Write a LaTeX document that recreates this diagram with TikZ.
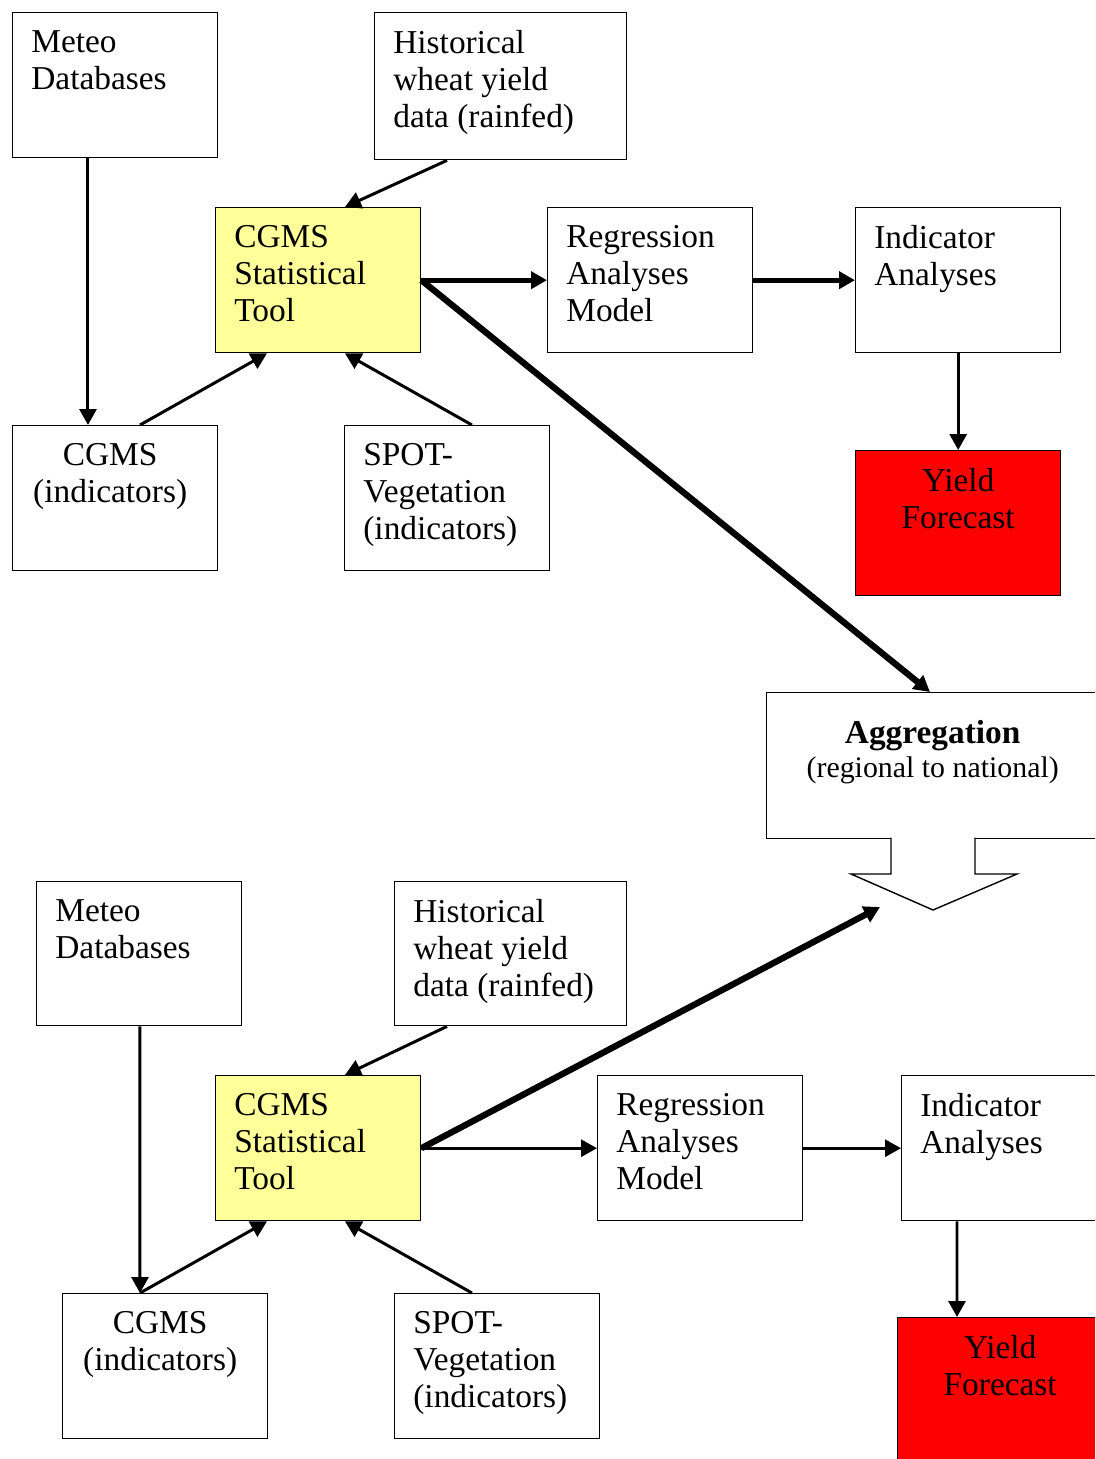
\documentclass[tikz,border=0pt]{standalone}
\usepackage{fontspec}
\setmainfont{Liberation Serif}
\usetikzlibrary{arrows.meta}
\definecolor{toolyellow}{HTML}{FFFF99}
\definecolor{forecastred}{HTML}{FF0000}
\begin{document}
\begin{tikzpicture}[x=0.02cm, y=-0.02cm,
            box/.style={draw, line width=0.8pt, anchor=north west, inner sep=0pt, minimum width=4.1cm, minimum height=2.9cm},
            tool/.style={box, fill=toolyellow},
            fcst/.style={box, fill=forecastred},
            boxtxt/.style={inner sep=0pt, font=\fontsize{19}{21}\selectfont, execute at begin node={\strut}},
            ltxt/.style={boxtxt, anchor=north west, align=left, xshift=0.38cm, yshift=-0.36cm},
            ctxt/.style={boxtxt, anchor=north, align=center, yshift=-0.36cm},
            arr/.style={-{Triangle[length=0.32cm, width=0.34cm]}, line width=1.7pt},
            arrb/.style={arr, line width=2.8pt},
            arrx/.style={arr, line width=3.6pt}]
            \useasboundingbox (0,0) rectangle (1095,1459);
            \clip (0,0) rectangle (1095,1459);
            \node [box, label={[ltxt]north west:Meteo\\Databases}] (met1) at (12,12) {};
            \node [box, minimum width=5.04cm, minimum height=2.94cm, label={[ltxt]north west:Historical\\wheat yield\\data (rainfed)}] (hist1) at (374,12) {};
            \node [tool, label={[ltxt]north west:CGMS\\Statistical\\Tool}] (cst1) at (215,207) {};
            \node [box, label={[ltxt]north west:Regression\\Analyses\\Model}] (reg1) at (547,207) {};
            \node [box, label={[ltxt]north west:Indicator\\Analyses}] (ind1) at (855,207) {};
            \node [box, label={[ctxt, xshift=-0.1cm]north:CGMS\\(indicators)}] (cgi1) at (12,425) {};
            \node [box, label={[ltxt]north west:SPOT-\\Vegetation\\(indicators)}] (spot1) at (344,425) {};
            \node [fcst, label={[ctxt]north:Yield\\Forecast}] (yld1) at (855,450) {};
            \node [box, minimum width=6.64cm, minimum height=2.92cm, label={[ctxt, font=\fontsize{17}{19.4}\selectfont, yshift=-0.2cm]north:{\fontsize{19}{19.4}\selectfont\bfseries Aggregation}\\(regional to national)}] (agg) at (766,692) {};
            \draw [line width=0.8pt, fill=white] (891,837.5) -- (891,874) -- (851,874) -- (933,910) -- (1017,874) -- (975,874) -- (975,837.5);
            \node [box, minimum height=2.88cm, label={[ltxt]north west:Meteo\\Databases}] (met2) at (36,881) {};
            \node [box, minimum width=4.64cm, minimum height=2.88cm, label={[ltxt]north west:Historical\\wheat yield\\data (rainfed)}] (hist2) at (394,881) {};
            \node [tool, label={[ltxt]north west:CGMS\\Statistical\\Tool}] (cst2) at (215,1075) {};
            \node [box, label={[ltxt]north west:Regression\\Analyses\\Model}] (reg2) at (597,1075) {};
            \node [box, label={[ltxt]north west:Indicator\\Analyses}] (ind2) at (901,1075) {};
            \node [box, label={[ctxt, xshift=-0.1cm]north:CGMS\\(indicators)}] (cgi2) at (62,1293) {};
            \node [box, label={[ltxt]north west:SPOT-\\Vegetation\\(indicators)}] (spot2) at (394,1293) {};
            \node [fcst, label={[ctxt]north:Yield\\Forecast}] (yld2) at (897,1317) {};
            \coordinate (aggtip) at (880,907);
            \draw [arr] ([xshift=1.52cm]met1.south west) -- ([xshift=1.52cm]cgi1.north west);
            \draw [arr] ([xshift=1.46cm]hist1.south west) -- ([xshift=2.6cm]cst1.north west);
            \draw [arr] ([xshift=2.56cm]cgi1.north west) -- ([xshift=1.04cm]cst1.south west);
            \draw [arr] ([xshift=2.56cm]spot1.north west) -- ([xshift=2.6cm]cst1.south west);
            \draw [arrb] (cst1.east) -- (reg1.west);
            \draw [arrb] (reg1.east) -- (ind1.west);
            \draw [arr] (ind1.south) -- (yld1.north);
            \draw [arrx] (cst1.east) -- ([xshift=3.28cm]agg.north west);
            \draw [arr] ([xshift=2.08cm]met2.south west) -- ([xshift=1.56cm]cgi2.north west);
            \draw [arr] ([xshift=1.06cm]hist2.south west) -- ([xshift=2.6cm]cst2.north west);
            \draw [arr] ([xshift=1.56cm]cgi2.north west) -- ([xshift=1.04cm]cst2.south west);
            \draw [arr] ([xshift=1.56cm]spot2.north west) -- ([xshift=2.6cm]cst2.south west);
            \draw [arr] (cst2.east) -- (reg2.west);
            \draw [arr] (reg2.east) -- (ind2.west);
            \draw [arr] ([xshift=1.12cm]ind2.south west) -- ([xshift=1.2cm]yld2.north west);
            \draw [arrx] (cst2.east) -- (aggtip);
\end{tikzpicture}
\end{document}
